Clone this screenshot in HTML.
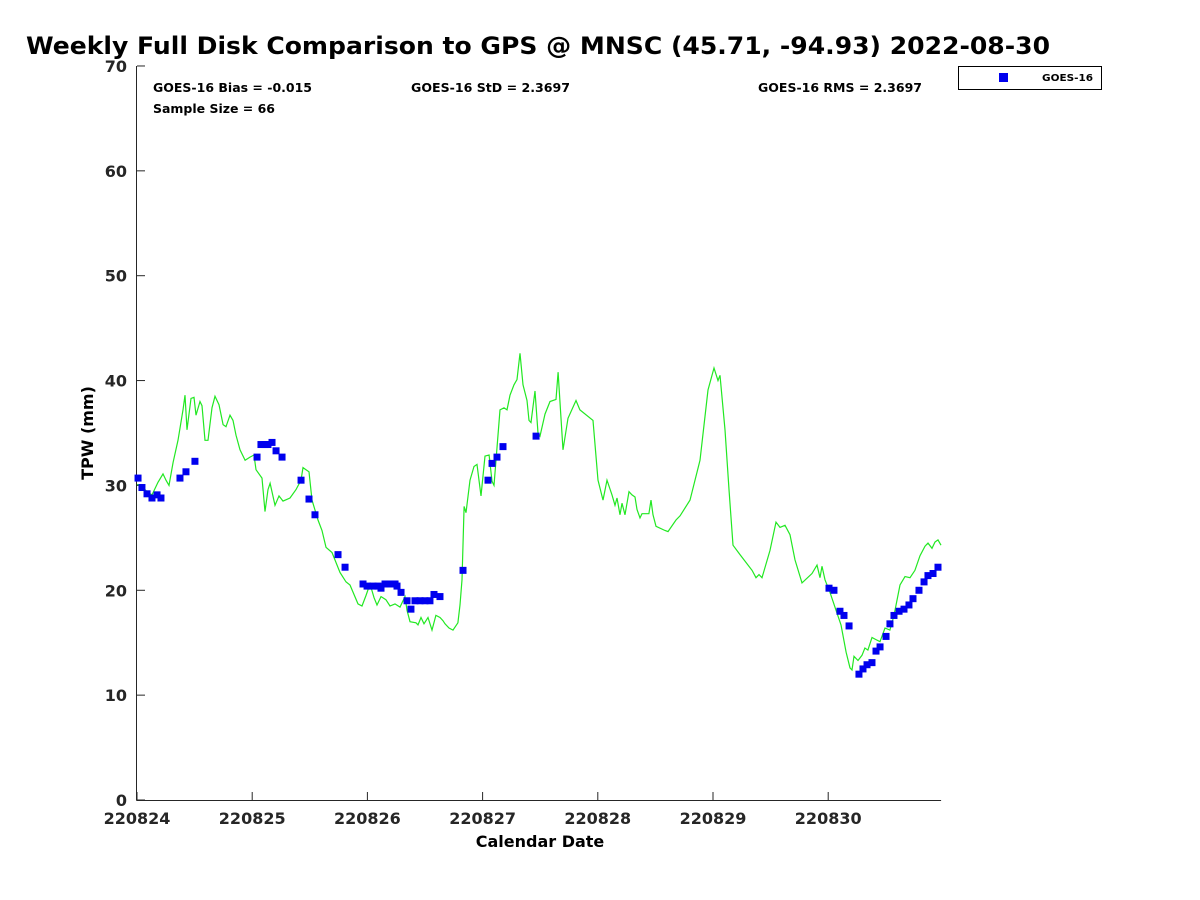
<!DOCTYPE html>
<html><head><meta charset="utf-8"><style>
body{margin:0;background:#fff;}
svg{display:block;font-family:"DejaVu Sans","Liberation Sans",sans-serif;}
</style></head><body>
<svg id="chart" width="1200" height="900">
<text x="26" y="54" font-size="24" font-weight="bold" fill="#000" textLength="1024" lengthAdjust="spacingAndGlyphs">Weekly Full Disk Comparison to GPS @ MNSC (45.71, -94.93) 2022-08-30</text>
<g id="axes"></g>
<g id="series"></g>
<text x="153" y="92" font-size="12" font-weight="bold" textLength="159" lengthAdjust="spacingAndGlyphs">GOES-16 Bias = -0.015</text>
<text x="153" y="113" font-size="12" font-weight="bold" textLength="122" lengthAdjust="spacingAndGlyphs">Sample Size = 66</text>
<text x="411" y="92" font-size="12" font-weight="bold" textLength="159" lengthAdjust="spacingAndGlyphs">GOES-16 StD = 2.3697</text>
<text x="758" y="92" font-size="12" font-weight="bold" textLength="164" lengthAdjust="spacingAndGlyphs">GOES-16 RMS = 2.3697</text>
<g>
<rect x="958.5" y="66.5" width="143" height="23" fill="#fff" stroke="#000" stroke-width="1"/>
<rect x="999" y="73" width="9" height="9" fill="#0000ee"/>
<text x="1042" y="81" font-size="10" font-weight="bold" textLength="51" lengthAdjust="spacingAndGlyphs">GOES-16</text>
</g>
<text x="540" y="847" font-size="16" font-weight="bold" text-anchor="middle">Calendar Date</text>
<text transform="translate(93,433) rotate(-90)" font-size="16" font-weight="bold" text-anchor="middle">TPW (mm)</text>
</svg>
<script>
const xTickLabels=["220824","220825","220826","220827","220828","220829","220830"];
const yTicks=[0,10,20,30,40,50,60,70];
const gpsDays=[0,0.035,0.087,0.130,0.182,0.226,0.252,0.278,0.313,0.356,0.399,0.417,0.434,0.469,0.495,0.512,0.547,0.564,0.590,0.616,0.651,0.677,0.712,0.747,0.773,0.807,0.833,0.859,0.894,0.938,0.981,1.016,1.033,1.085,1.111,1.137,1.155,1.198,1.233,1.267,1.328,1.380,1.424,1.441,1.467,1.493,1.519,1.571,1.606,1.641,1.693,1.762,1.814,1.849,1.918,1.953,1.988,2.023,2.057,2.083,2.118,2.161,2.196,2.240,2.283,2.326,2.344,2.370,2.422,2.439,2.465,2.491,2.526,2.561,2.595,2.630,2.656,2.674,2.708,2.743,2.786,2.804,2.821,2.839,2.856,2.891,2.925,2.951,2.986,3.021,3.056,3.082,3.099,3.125,3.151,3.186,3.212,3.238,3.273,3.299,3.325,3.351,3.385,3.403,3.420,3.455,3.481,3.498,3.542,3.585,3.637,3.655,3.698,3.741,3.811,3.845,3.958,4.002,4.045,4.080,4.123,4.149,4.167,4.193,4.210,4.236,4.271,4.297,4.323,4.340,4.366,4.384,4.444,4.462,4.479,4.505,4.583,4.609,4.679,4.714,4.800,4.887,4.957,5.009,5.043,5.061,5.104,5.139,5.174,5.234,5.339,5.373,5.399,5.425,5.495,5.547,5.582,5.625,5.668,5.712,5.773,5.859,5.903,5.929,5.946,5.972,6.016,6.068,6.111,6.155,6.189,6.207,6.224,6.259,6.293,6.319,6.345,6.380,6.415,6.450,6.493,6.536,6.571,6.623,6.667,6.710,6.753,6.797,6.840,6.866,6.901,6.927,6.953,6.979];
const gpsTpw=[30.1,30,29.4,29.1,30.3,31.1,30.5,30,32.2,34.3,37.2,38.6,35.3,38.3,38.4,36.7,38,37.6,34.3,34.3,37.4,38.5,37.7,35.8,35.6,36.7,36.2,34.8,33.4,32.4,32.7,32.9,31.5,30.7,27.5,29.6,30.2,28.1,29,28.5,28.8,29.6,30.5,31.7,31.5,31.3,28.6,26.7,25.7,24.1,23.6,21.7,20.8,20.5,18.7,18.5,19.5,20.6,19.3,18.6,19.4,19.1,18.5,18.7,18.4,19.4,18.1,17,16.9,16.7,17.4,16.8,17.4,16.2,17.6,17.4,17.1,16.8,16.4,16.2,16.9,18.6,21,28,27.4,30.5,31.8,32,29,32.8,32.9,30.4,30,33.6,37.2,37.4,37.2,38.6,39.6,40.1,42.6,39.6,38.1,36.2,36,39,35,34.7,36.8,38,38.2,40.8,33.4,36.4,38.1,37.2,36.2,30.5,28.6,30.5,29.1,28.1,28.8,27.2,28.3,27.2,29.4,29.1,28.9,27.7,26.9,27.3,27.3,28.6,27.2,26.1,25.7,25.6,26.7,27.1,28.6,32.4,39.1,41.2,40,40.5,35.3,29.6,24.3,23.4,21.9,21.2,21.5,21.2,23.8,26.5,26,26.2,25.3,22.9,20.7,21.6,22.4,21.2,22.3,21,19.8,18.1,16.7,14.1,12.6,12.4,13.7,13.3,13.8,14.5,14.3,15.5,15.3,15.1,16.4,16.2,17.6,20.5,21.3,21.2,21.9,23.3,24.2,24.5,24,24.6,24.8,24.3];
const goesDays=[0.009,0.043,0.087,0.130,0.174,0.208,0.373,0.425,0.503,1.042,1.076,1.111,1.137,1.172,1.207,1.259,1.424,1.493,1.545,1.745,1.806,1.962,1.997,2.049,2.092,2.118,2.153,2.196,2.240,2.257,2.292,2.344,2.378,2.413,2.457,2.500,2.543,2.578,2.630,2.830,3.047,3.082,3.125,3.177,3.464,6.007,6.050,6.102,6.137,6.181,6.267,6.302,6.337,6.380,6.415,6.450,6.502,6.536,6.571,6.615,6.658,6.701,6.736,6.788,6.832,6.866,6.910,6.953];
const goesTpw=[30.7,29.8,29.2,28.8,29.1,28.8,30.7,31.3,32.3,32.7,33.9,33.9,33.9,34.1,33.3,32.7,30.5,28.7,27.2,23.4,22.2,20.6,20.4,20.4,20.4,20.2,20.6,20.6,20.6,20.4,19.8,19,18.2,19,19,19,19,19.6,19.4,21.9,30.5,32.1,32.7,33.7,34.7,20.2,20,18,17.6,16.6,12,12.5,12.9,13.1,14.2,14.6,15.6,16.8,17.6,18,18.2,18.6,19.2,20,20.8,21.4,21.6,22.2];

const NS='http://www.w3.org/2000/svg';
const X0=137,DAYPX=115.2,Y0=800,YPX=10.486;
function xs(d){return X0+d*DAYPX;}
function ys(v){return Y0-v*YPX;}
function mk(tag,attrs,parent){const e=document.createElementNS(NS,tag);for(const k in attrs)e.setAttribute(k,attrs[k]);parent.appendChild(e);return e;}
const axes=document.getElementById('axes'),series=document.getElementById('series');
let e=mk('line',{x1:136.5,y1:ys(70),x2:136.5,y2:Y0+0.5,stroke:'#262626','stroke-width':1},axes);


e=mk('line',{x1:136.5,y1:Y0+0.5,x2:xs(6.98),y2:Y0+0.5,stroke:'#262626','stroke-width':1},axes);


yTicks.forEach(v=>{
  const t=mk('line',{x1:137,y1:ys(v),x2:145,y2:ys(v),stroke:'#262626'},axes);
  
  
  const l=mk('text',{x:127,y:ys(v)+6,'font-size':16,'font-weight':'bold','text-anchor':'end',fill:'#262626'},axes);
  l.textContent=v;
  
  
});
xTickLabels.forEach((s,i)=>{
  const t=mk('line',{x1:xs(i),y1:Y0,x2:xs(i),y2:Y0-8,stroke:'#262626'},axes);
  
  
  const l=mk('text',{x:xs(i),y:824,'font-size':16,'font-weight':'bold','text-anchor':'middle',fill:'#262626'},axes);
  l.textContent=s;
  
  
});
const pts=gpsDays.map((d,i)=>xs(d).toFixed(1)+','+ys(gpsTpw[i]).toFixed(1)).join(' ');
const pl=mk('polyline',{points:pts,fill:'none',stroke:'#22e822','stroke-width':1.2},series);


goesDays.forEach((d,i)=>{
  const r=mk('rect',{x:xs(d)-3.5,y:ys(goesTpw[i])-3.5,width:7,height:7,fill:'#0000ee'},series);
  
  
});
</script>
</body></html>
